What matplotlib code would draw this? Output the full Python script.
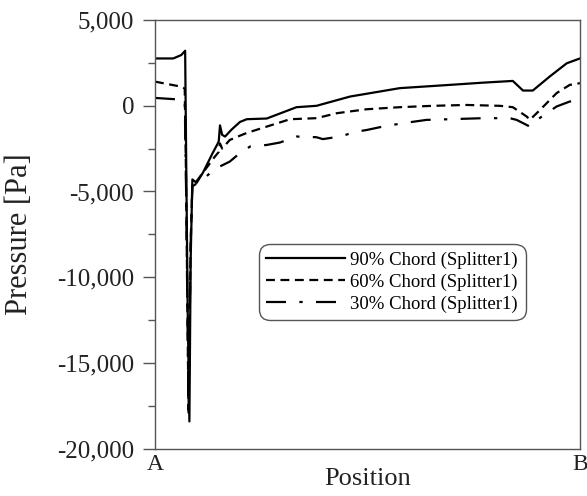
import numpy as np
import matplotlib.pyplot as plt
from matplotlib.ticker import MultipleLocator, FuncFormatter

# position along the line A -> B (0 = A, 1 = B)
pos_90 = [0, 0.043, 0.062, 0.071, 0.073, 0.077, 0.081, 0.084, 0.088, 0.098, 0.113,
          0.135, 0.150, 0.153, 0.158, 0.165, 0.180, 0.200, 0.216, 0.263, 0.333, 0.380,
          0.459, 0.576, 0.694, 0.772, 0.842, 0.866, 0.889, 0.929, 0.969, 1.0]
p_90 = [2750, 2750, 2950, 3200, -2000, -12000, -18400, -9000, -4300, -4500, -3900,
        -2800, -2100, -1150, -1700, -1800, -1400, -950, -790, -750, -90, -10,
        530, 1020, 1210, 1340, 1440, 880, 880, 1700, 2470, 2750]

pos_60 = [0, 0.063, 0.070, 0.073, 0.079, 0.084, 0.088, 0.098, 0.113, 0.140, 0.150,
          0.153, 0.158, 0.176, 0.200, 0.216, 0.263, 0.318, 0.380, 0.428, 0.498,
          0.576, 0.654, 0.733, 0.812, 0.842, 0.875, 0.882, 0.906, 0.945, 0.976, 1.0]
p_60 = [1400, 1100, 1000, -4000, -18000, -8000, -4500, -4400, -3900, -3000, -2700,
        -2200, -2500, -2000, -1750, -1590, -1220, -790, -730, -440, -210,
        -90, -10, 40, -10, -90, -640, -830, -250, 730, 1210, 1310]

pos_30 = [0, 0.063, 0.070, 0.073, 0.079, 0.084, 0.088, 0.113, 0.140, 0.176, 0.200,
          0.224, 0.263, 0.294, 0.333, 0.380, 0.395, 0.435, 0.475, 0.498, 0.536,
          0.584, 0.639, 0.694, 0.772, 0.835, 0.851, 0.882, 0.906, 0.945, 0.976, 1.0]
p_30 = [450, 350, 300, -4500, -17800, -8000, -4700, -4300, -3700, -3260, -2760,
        -2380, -2290, -2150, -1800, -1840, -1950, -1800, -1510, -1420, -1220,
        -1020, -830, -790, -730, -730, -830, -1220, -710, -50, 240, 300]

labels = ['90% Chord (Splitter1)', '60% Chord (Splitter1)', '30% Chord (Splitter1)']

plt.rcParams['font.family'] = ['Liberation Serif', 'DejaVu Serif']

fig = plt.figure(figsize=(5.87, 4.96), dpi=100)
ax = fig.add_axes([0.264, 0.095, 0.724, 0.865])

ax.plot(pos_90, p_90, color='black', lw=1.6, label=labels[0])
ax.plot(pos_60, p_60, color='black', lw=1.6, dashes=(4, 2.5), label=labels[1])
ax.plot(pos_30, p_30, color='black', lw=1.6, dashes=(9, 6, 1.5, 6), label=labels[2])

ax.set_xlim(0, 1)
ax.set_ylim(-20000, 5000)
ax.yaxis.set_major_locator(MultipleLocator(5000))
ax.yaxis.set_minor_locator(MultipleLocator(2500))
ax.yaxis.set_major_formatter(FuncFormatter(lambda v, _: f'{int(v):,}'))
ax.set_xticks([0, 1])
ax.set_xticklabels(['A', 'B'])

ax.tick_params(axis='y', which='major', length=9, width=1, pad=6, labelsize=18,
               color='#555555', labelcolor='#222222')
ax.tick_params(axis='y', which='minor', length=5, width=1, color='#555555')
ax.tick_params(axis='x', length=0, pad=4, labelsize=17, labelcolor='#222222')
for s in ax.spines.values():
    s.set_color('#555555')
    s.set_linewidth(1)

ax.set_ylabel('Pressure [Pa]', fontsize=22, color='#222222')
ax.yaxis.set_label_coords(-0.285, 0.5)
ax.set_xlabel('Position', fontsize=19, labelpad=-5, color='#222222')

leg = ax.legend(loc='center', bbox_to_anchor=(0.558, 0.389), fontsize=13.5,
                handlelength=4.2, handletextpad=0.3, borderpad=0.4, labelspacing=0.25,
                fancybox=True, framealpha=1, edgecolor='#555555')
leg.get_frame().set_linewidth(1)
leg.get_frame().set_boxstyle('round', pad=0, rounding_size=0.6)

fig.savefig('out.png', dpi=100)
